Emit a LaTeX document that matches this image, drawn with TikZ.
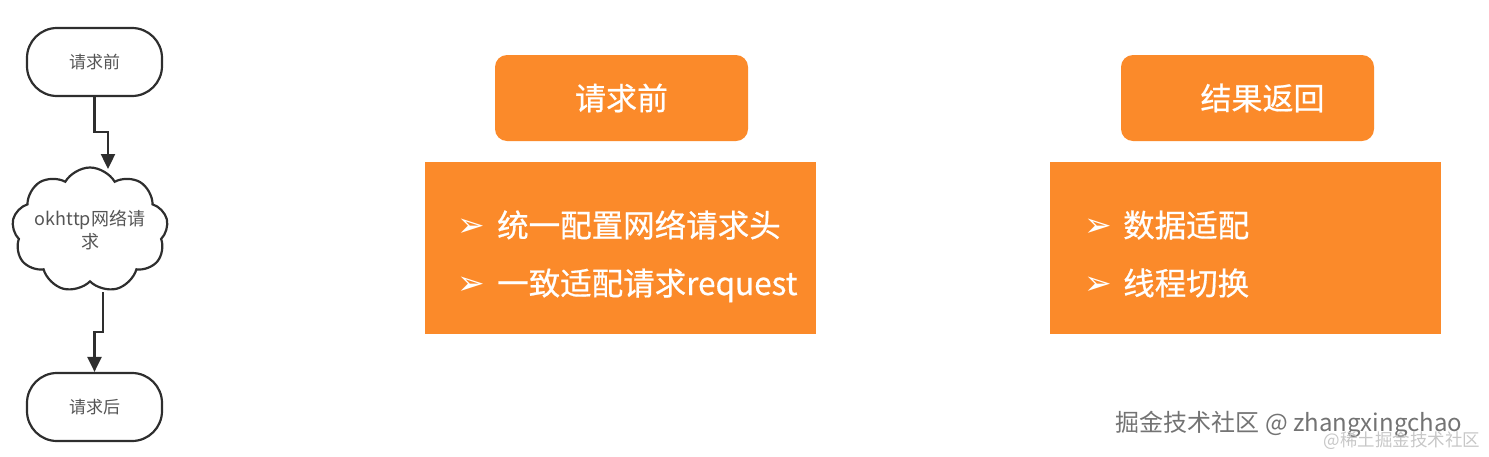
\documentclass[tikz,border=0pt]{standalone}
\usepackage{fontspec}
\setmainfont{Noto Sans CJK SC}
\newfontfamily\cjkbold[FakeBold=0.6]{Noto Sans CJK SC}
\newfontfamily\dingfont{DejaVu Sans}
\usetikzlibrary{shapes.symbols,arrows.meta}
\definecolor{orangebox}{HTML}{FB8A2A}
\definecolor{linegray}{HTML}{2E2E2E}
\definecolor{flowtext}{HTML}{555555}
\newcommand{\bul}[1]{\makebox[#1][l]{\raisebox{1pt}{\dingfont\fontsize{33}{36}\selectfont ➢}}}
\begin{document}
\begin{tikzpicture}[x=1pt,y=-1pt,
  term/.style={draw=linegray,line width=2.2pt,rounded corners=30pt,minimum width=135pt,minimum height=68pt,inner sep=0pt,font=\fontsize{17}{20}\selectfont,text=flowtext},
  cloudnode/.style={cloud,draw=linegray,line width=2.2pt,cloud puffs=9,cloud puff arc=120,minimum width=156pt,minimum height=125pt,inner sep=0pt},
  cloudtext/.style={align=center,inner sep=0pt,font=\fontsize{18}{23}\selectfont,text=flowtext},
  conn/.style={draw=linegray,line width=2.4pt,-{Triangle[width=14pt,length=15pt]}},
  titlebox/.style={fill=orangebox,rounded corners=12pt,minimum width=253pt,minimum height=86pt,inner sep=0pt,text=white,font=\cjkbold\fontsize{31}{34}\selectfont},
  contentbox/.style={fill=orangebox,minimum width=391pt,minimum height=172pt,inner sep=0pt},
  item/.style={anchor=base west,inner sep=0pt,text=white,font=\cjkbold\fontsize{31.5}{34}\selectfont}
]
\useasboundingbox (0,0) rectangle (1489,456);

% left flowchart
\node[term] (t1) at (94.5,62) {请求前};
\node[cloudnode,label={[cloudtext]center:okhttp网络请\\求}] (cl) at (90,230) {};
\node[term] (t2) at (94.5,407) {请求后};
\coordinate (c1) at (108,169);
\coordinate (c2) at (103,292);
\draw[conn] (t1.south) -- ++(0,35) -| (c1);
\draw[conn] (c2) -- ++(0,40) -| (t2.north);

% orange boxes
\node[titlebox] (h1) at (621.5,98) {请求前};
\node[contentbox] (b1) at (620,248) {};
\node[item] (i11) at (457,237) {\bul{40pt}统一配置网络请求头};
\node[item] (i12) at (457,295) {\bul{40pt}一致适配请求request};

\node[titlebox] (h2) at (1247.5,98) {\hspace*{30pt}结果返回};
\node[contentbox] (b2) at (1245.5,248) {};
\node[item] (i21) at (1084,237) {\bul{39pt}数据适配};
\node[item] (i22) at (1084,295) {\bul{39pt}线程切换};

% watermark
\node[inner sep=0pt,text=black!55,font=\fontsize{24}{28}\selectfont] (w1) at (1289,424) {掘金技术社区 @ zhangxingchao};
\node[inner sep=0pt,text=black!22,font=\fontsize{17.5}{20}\selectfont] (w2) at (1402,441) {@稀土掘金技术社区};
\end{tikzpicture}
\end{document}
